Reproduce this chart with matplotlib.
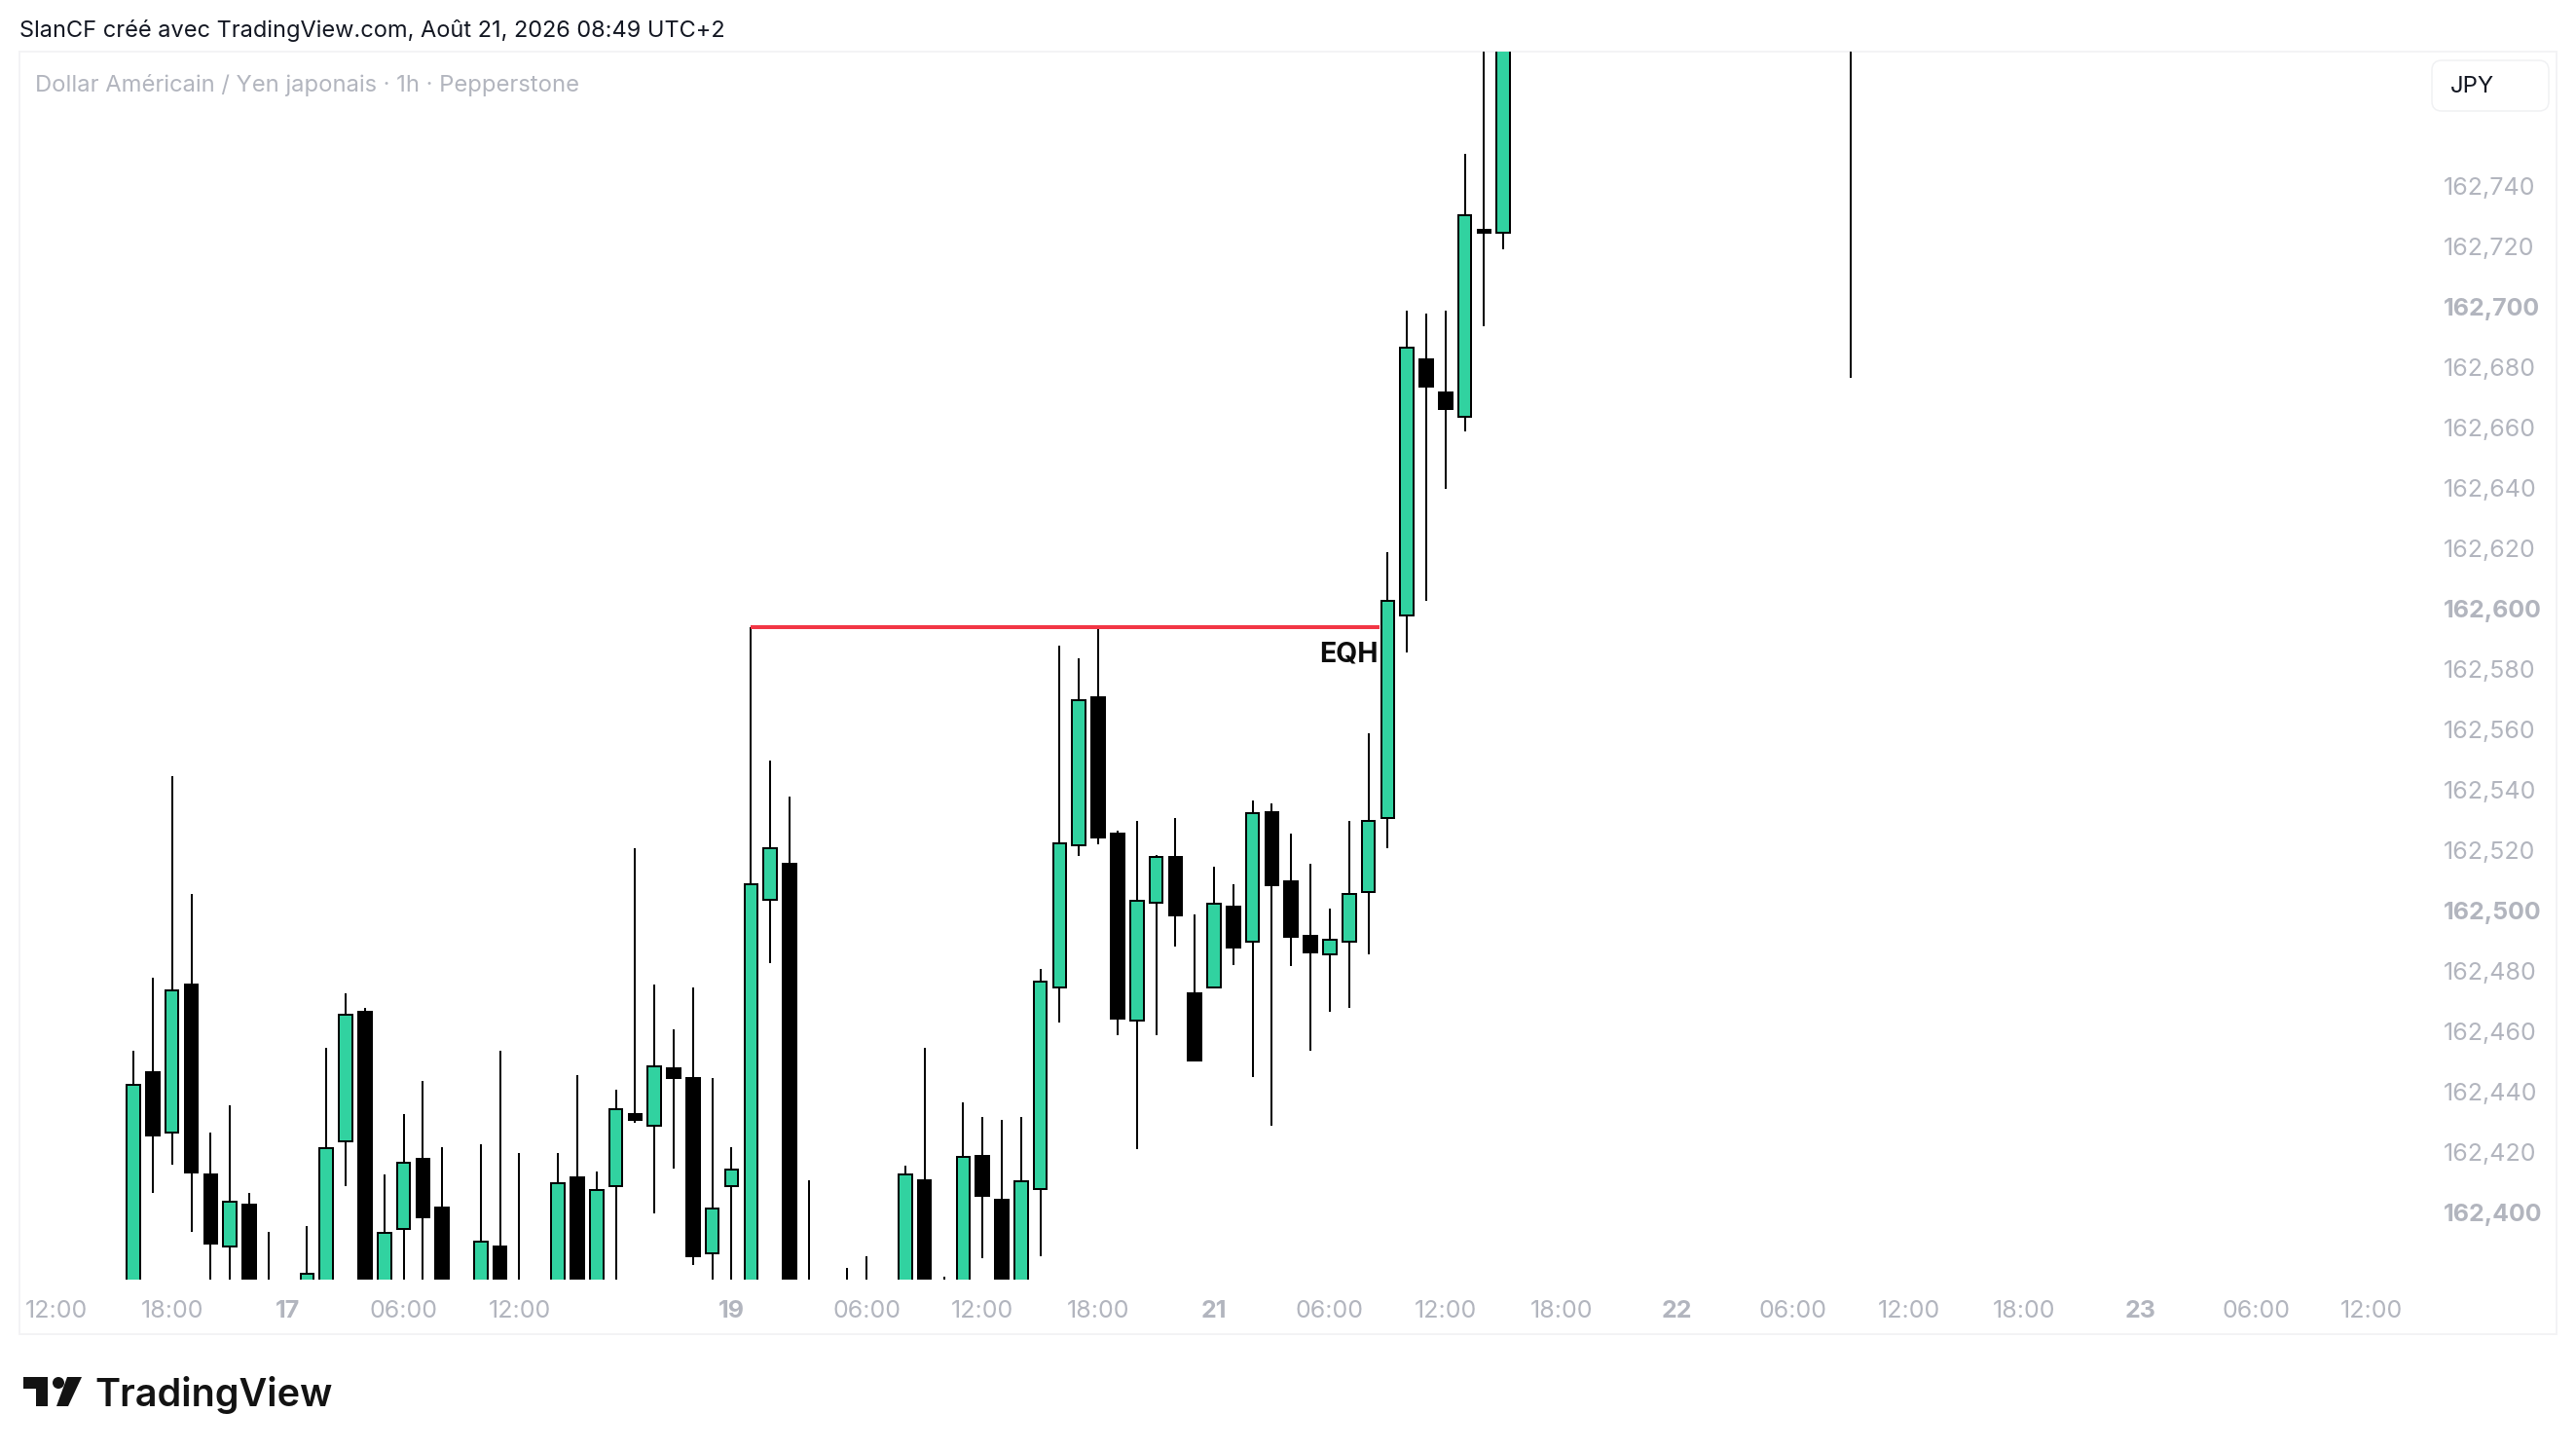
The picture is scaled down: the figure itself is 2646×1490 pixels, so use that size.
import matplotlib
matplotlib.use("Agg")
import matplotlib.pyplot as plt
from matplotlib.patches import Rectangle, Polygon, Circle, FancyBboxPatch
import numpy as np

plt.rcParams['font.family'] = ['Inter', 'DejaVu Sans']

# bars, counted from the 18:00 bar of the first session
bar_index = list(range(-2, 70))

# values below 162.378 or above 162.784 are cut off by the pane, so estimated
opens = [162.360, 162.4463, 162.4263, 162.4753, 162.4124, 162.3885, 162.4024, 162.372, 162.372, 162.360,
         162.360, 162.4234, 162.4664, 162.360, 162.3943, 162.4176, 162.4016, 162.370, 162.360, 162.3885,
         162.372, 162.366, 162.360, 162.4115, 162.360, 162.4086, 162.4325, 162.4286, 162.4476, 162.4443,
         162.3864, 162.4086, 162.360, 162.5035, 162.5153, 162.372, 162.370, 162.366, 162.366, 162.366,
         162.360, 162.4106, 162.366, 162.360, 162.4185, 162.4042, 162.360, 162.4076, 162.4744, 162.5216,
         162.5706, 162.5254, 162.4633, 162.5024, 162.5176, 162.4723, 162.4744, 162.5013, 162.4896, 162.5324,
         162.5096, 162.4916, 162.4853, 162.4895, 162.5061, 162.5305, 162.5975, 162.6825, 162.6714, 162.6633,
         162.7254, 162.7244]
closes = [162.4422, 162.4252, 162.4733, 162.4132, 162.3894, 162.4033, 162.360, 162.366, 162.366, 162.3794,
          162.4213, 162.4653, 162.360, 162.3932, 162.4162, 162.3984, 162.360, 162.366, 162.3903, 162.360,
          162.366, 162.370, 162.4095, 162.360, 162.4074, 162.4342, 162.4304, 162.4484, 162.4443, 162.3852,
          162.4012, 162.4141, 162.5085, 162.5204, 162.360, 162.366, 162.366, 162.372, 162.372, 162.370,
          162.4123, 162.360, 162.372, 162.4184, 162.4053, 162.360, 162.4103, 162.4762, 162.5222, 162.5694,
          162.5242, 162.4642, 162.5032, 162.5175, 162.4984, 162.4503, 162.5021, 162.4875, 162.5322, 162.5082,
          162.4912, 162.4860, 162.4903, 162.5053, 162.5295, 162.6023, 162.6862, 162.6733, 162.6661, 162.7303,
          162.7243, 162.800]
highs = [162.4533, 162.4776, 162.5444, 162.5054, 162.4264, 162.4354, 162.4064, 162.3934, 162.374, 162.3954,
         162.4544, 162.4726, 162.4676, 162.4124, 162.4324, 162.4434, 162.4216, 162.372, 162.4224, 162.4534,
         162.4196, 162.372, 162.4196, 162.4454, 162.4134, 162.4406, 162.5206, 162.4754, 162.4606, 162.4744,
         162.4444, 162.4214, 162.5939, 162.5496, 162.5376, 162.4106, 162.372, 162.3815, 162.3853, 162.372,
         162.4153, 162.4544, 162.3786, 162.4363, 162.4315, 162.4305, 162.4315, 162.4805, 162.5876, 162.5834,
         162.5931, 162.5263, 162.5295, 162.5184, 162.5306, 162.4986, 162.5144, 162.5086, 162.5363, 162.5354,
         162.5254, 162.5154, 162.5006, 162.5296, 162.5586, 162.6186, 162.6986, 162.6976, 162.6986, 162.7505,
         162.810, 162.810]
lows = [162.350, 162.4064, 162.4157, 162.3934, 162.370, 162.370, 162.350, 162.360, 162.360, 162.350,
        162.350, 162.4087, 162.350, 162.350, 162.370, 162.370, 162.350, 162.360, 162.350, 162.350,
        162.360, 162.360, 162.350, 162.350, 162.350, 162.370, 162.4296, 162.3996, 162.4144, 162.3826,
        162.370, 162.370, 162.350, 162.4826, 162.350, 162.360, 162.360, 162.360, 162.360, 162.360,
        162.350, 162.350, 162.360, 162.350, 162.3846, 162.350, 162.350, 162.3855, 162.4627, 162.5178,
        162.5217, 162.4587, 162.4207, 162.4587, 162.4878, 162.4503, 162.4744, 162.4817, 162.4446, 162.4287,
        162.4816, 162.4534, 162.4664, 162.4676, 162.4854, 162.5206, 162.5854, 162.6026, 162.6397, 162.6587,
        162.6934, 162.7188]

# single vertical line far right of the last bar
stray_bar = 87
stray_low = 162.6764
stray_high = 162.810

# EQH drawing
eqh_price = 162.5936
eqh_start = 30
eqh_end = 62.6

y_ticks = [162.40, 162.42, 162.44, 162.46, 162.48, 162.50, 162.52, 162.54, 162.56,
           162.58, 162.60, 162.62, 162.64, 162.66, 162.68, 162.70, 162.72, 162.74]
y_labels = ['162,400', '162,420', '162,440', '162,460', '162,480', '162,500', '162,520', '162,540', '162,560',
            '162,580', '162,600', '162,620', '162,640', '162,660', '162,680', '162,700', '162,720', '162,740']
y_bold = ['162,400', '162,500', '162,600', '162,700']

x_ticks = [-6, 0, 6, 12, 18, 29, 36, 42, 48, 54, 60, 66, 72, 78, 84, 90, 96, 102, 108, 114]
x_labels = ['12:00', '18:00', '17', '06:00', '12:00', '19', '06:00', '12:00', '18:00', '21',
            '06:00', '12:00', '18:00', '22', '06:00', '12:00', '18:00', '23', '06:00', '12:00']
x_bold = ['17', '19', '21', '22', '23']

GREEN = '#31d2a0'
GREY = '#b2b5be'
PX = 72 / 100  # one pixel in points at dpi 100

W, H = 2646, 1490
fig = plt.figure(figsize=(W / 100, H / 100), dpi=100, facecolor='white')

# page layer in pixels, y going down
page = fig.add_axes([0, 0, 1, 1])
page.set_xlim(0, W)
page.set_ylim(H, 0)
page.axis('off')

page.add_patch(Rectangle((19.5, 53), 2606.5, 1317, facecolor='white', edgecolor='#f3f3f5', linewidth=2 * PX))
page.add_patch(FancyBboxPatch((2498, 62), 120, 52, boxstyle='round,pad=0,rounding_size=10',
                              facecolor='white', edgecolor='#f0f1f3', linewidth=1.5 * PX))

page.text(20, 31.5, 'SlanCF créé avec TradingView.com, Août 21, 2026 08:49 UTC+2', fontsize=16.95,
          color='#131722', va='center', ha='left')
page.text(36.5, 87.5, 'Dollar Américain / Yen japonais · 1h · Pepperstone', fontsize=17.1,
          color=GREY, va='center', ha='left')
page.text(2517, 89, 'JPY', fontsize=17.2, color='#131722', va='center', ha='left')

# logo
page.add_patch(Polygon([(24, 1414), (48.5, 1414), (48.5, 1444), (36.5, 1444), (36.5, 1426), (24, 1426)],
                       facecolor='#131313', edgecolor='none'))
page.add_patch(Circle((60, 1420), 6, facecolor='#131313', edgecolor='none'))
page.add_patch(Polygon([(69, 1414), (84, 1414), (70, 1444), (58, 1444)], facecolor='#131313', edgecolor='none'))
page.text(97, 1444, 'TradingView', fontsize=28.5, fontweight='semibold', color='#131313', va='baseline', ha='left')

# price pane
left, right, top, bottom = 20, 2480, 53, 1314
ax = fig.add_axes([left / W, 1 - bottom / H, (right - left) / W, (bottom - top) / H])
ax.patch.set_alpha(0)
for s in ax.spines.values():
    s.set_visible(False)
ax.set_xlim(-7.906, 116.21)
ax.set_ylim(162.3776, 162.7844)

x = np.array(bar_index)
opens = np.array(opens)
closes = np.array(closes)
highs = np.array(highs)
lows = np.array(lows)
up = closes >= opens

ax.vlines(x, lows, highs, color='black', linewidth=2 * PX, zorder=2)
ax.bar(x[up], (closes - opens)[up], bottom=opens[up], width=0.686, color=GREEN, edgecolor='black',
       linewidth=2 * PX, zorder=3)
ax.bar(x[~up], (closes - opens)[~up], bottom=opens[~up], width=0.686, color='black', edgecolor='black',
       linewidth=2 * PX, zorder=3)

ax.vlines([stray_bar], [stray_low], [stray_high], color='black', linewidth=2 * PX, zorder=2)
ax.hlines([eqh_price], eqh_start, eqh_end, color='#f23645', linewidth=4 * PX, zorder=4)
ax.text(61.0, 162.5847, 'EQH', fontsize=20.5, fontweight='bold', color='#0d0d0d', ha='center', va='center', zorder=5)

ax.yaxis.tick_right()
ax.set_yticks(y_ticks)
ax.set_yticklabels(y_labels)
ax.set_xticks(x_ticks)
ax.set_xticklabels(x_labels)
ax.tick_params(axis='both', length=0, labelcolor=GREY, labelsize=18)
ax.tick_params(axis='y', pad=30 * PX)
ax.tick_params(axis='x', pad=21 * PX)
for lab in ax.get_yticklabels():
    if lab.get_text() in y_bold:
        lab.set_fontweight('bold')
for lab in ax.get_xticklabels():
    if lab.get_text() in x_bold:
        lab.set_fontweight('bold')

fig.savefig('out.png', dpi=100)
